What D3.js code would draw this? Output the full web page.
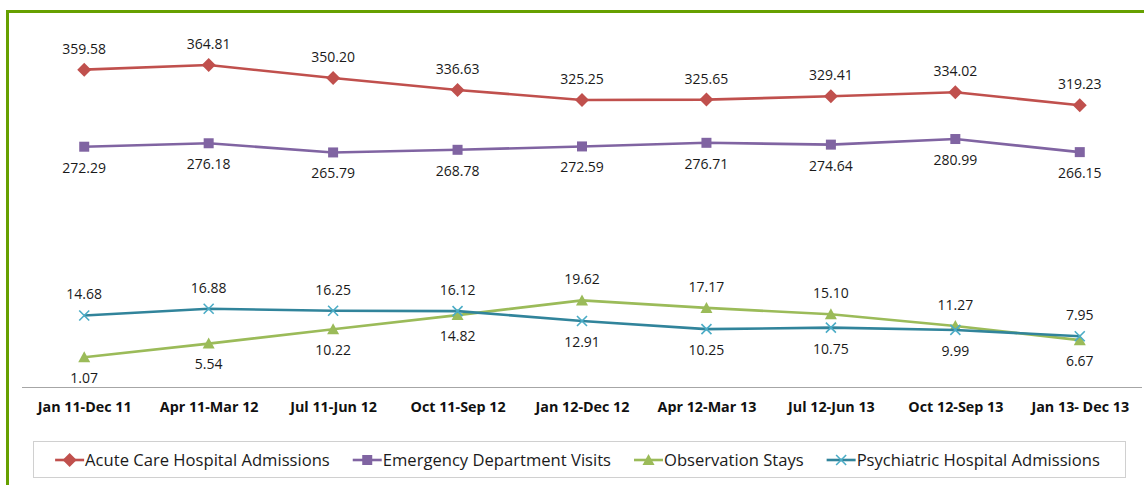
<!DOCTYPE html>
<html>
<head>
<meta charset="utf-8">
<script src="https://cdn.jsdelivr.net/npm/d3@7"></script>
<style>
  html, body { margin: 0; padding: 0; background: #fff; }
  svg { display: block; font-family: "Open Sans", "Noto Sans", sans-serif; }
</style>
</head>
<body>
<svg id="chart" width="1144" height="485"></svg>
<script>
// Rolling 12-month periods
const periods = ["Jan 11-Dec 11", "Apr 11-Mar 12", "Jul 11-Jun 12", "Oct 11-Sep 12",
  "Jan 12-Dec 12", "Apr 12-Mar 13", "Jul 12-Jun 13", "Oct 12-Sep 13", "Jan 13- Dec 13"];

// Rates (primary axis)
const acuteCare = [359.58, 364.81, 350.20, 336.63, 325.25, 325.65, 329.41, 334.02, 319.23];
const emergencyVisits = [272.29, 276.18, 265.79, 268.78, 272.59, 276.71, 274.64, 280.99, 266.15];
// Rates (secondary axis)
const observationStays = [1.07, 5.54, 10.22, 14.82, 19.62, 17.17, 15.10, 11.27, 6.67];
const psychAdmissions = [14.68, 16.88, 16.25, 16.12, 12.91, 10.25, 10.75, 9.99, 7.95];

// Label placement for each point: "above" or "below"
const acutePos = ["above","above","above","above","above","above","above","above","above"];
const edPos = ["below","below","below","below","below","below","below","below","below"];
const obsPos = ["below","below","below","below","above","above","above","above","below"];
const psychPos = ["above","above","above","above","below","below","below","below","above"];

const primaryDomain = [0, 400];
const secondaryDomain = [-8.6, 106.4];

const svg = d3.select("#chart");
const W = 1144, H = 485;
const plot = { left: 22, right: 1142, top: 34, bottom: 387 };

// Chart frame
svg.append("rect")
  .attr("x", 7.5).attr("y", 11.5)
  .attr("width", W).attr("height", H)
  .attr("fill", "none").attr("stroke", "#66a000").attr("stroke-width", 3);

const x = d3.scalePoint().domain(periods).range([plot.left, plot.right]).padding(0.5);
const yPrimary = d3.scaleLinear().domain(primaryDomain).range([plot.bottom, plot.top]);
const ySecondary = d3.scaleLinear().domain(secondaryDomain).range([plot.bottom, plot.top]);

// Category axis
const xAxis = svg.append("g")
  .attr("transform", `translate(0,${plot.bottom})`)
  .call(d3.axisBottom(x).tickSize(0).tickPadding(15));
xAxis.select(".domain").attr("stroke", "#a6a6a6").attr("stroke-width", 1.2)
  .attr("d", `M${plot.left},0.5H${plot.right}`);
xAxis.selectAll(".tick text")
  .attr("font-family", "'Open Sans', sans-serif")
  .attr("font-size", 14.3).attr("font-weight", 700).attr("fill", "#111");

const series = [
  { name: "Acute Care Hospital Admissions", values: acuteCare, pos: acutePos, y: yPrimary,
    line: "#c0504d", marker: "diamond", mfill: "#c0504d" },
  { name: "Emergency Department Visits", values: emergencyVisits, pos: edPos, y: yPrimary,
    line: "#8064a2", marker: "square", mfill: "#8064a2" },
  { name: "Observation Stays", values: observationStays, pos: obsPos, y: ySecondary,
    line: "#9bbb59", marker: "triangle", mfill: "#9bbb59" },
  { name: "Psychiatric Hospital Admissions", values: psychAdmissions, pos: psychPos, y: ySecondary,
    line: "#31849b", marker: "cross", mfill: "#4bacc6" }
];

function drawMarker(g, type, color) {
  if (type === "diamond") {
    g.append("path").attr("d", "M0,-7L7,0L0,7L-7,0Z").attr("fill", color);
  } else if (type === "square") {
    g.append("rect").attr("x", -5).attr("y", -5).attr("width", 10).attr("height", 10).attr("fill", color);
  } else if (type === "triangle") {
    g.append("path").attr("d", "M0,-6L6,5L-6,5Z").attr("fill", color);
  } else {
    g.append("path").attr("d", "M-5,-5L5,5M-5,5L5,-5")
      .attr("stroke", color).attr("stroke-width", 1.6).attr("fill", "none");
  }
}

series.forEach(s => {
  const line = d3.line().x((d, i) => x(periods[i])).y(d => s.y(d));
  svg.append("path").datum(s.values)
    .attr("d", line).attr("fill", "none")
    .attr("stroke", s.line).attr("stroke-width", 2.6).attr("stroke-linejoin", "round");

  s.values.forEach((v, i) => {
    const g = svg.append("g").attr("transform", `translate(${x(periods[i])},${s.y(v)})`);
    drawMarker(g, s.marker, s.mfill);
  });

  svg.append("g").selectAll("text").data(s.values).join("text")
    .attr("x", (d, i) => x(periods[i]))
    .attr("y", (d, i) => s.y(d) + (s.pos[i] === "above" ? -21 : 21))
    .attr("dy", "0.35em")
    .attr("text-anchor", "middle")
    .attr("font-size", 14).attr("fill", "#1a1a1a")
    .text(d => d.toFixed(2));
});

// Legend
const legend = { x: 33.5, y: 441.5, w: 1092, h: 36 };
svg.append("rect")
  .attr("x", legend.x).attr("y", legend.y).attr("width", legend.w).attr("height", legend.h)
  .attr("fill", "#fff").attr("stroke", "#d0d0d0").attr("stroke-width", 1);

const lg = svg.append("g");
let cursor = 0;
const gap = 23, sym = 29;
series.forEach(s => {
  const item = lg.append("g").attr("transform", `translate(${cursor},0)`);
  item.append("line").attr("x1", 0).attr("x2", sym).attr("y1", 0).attr("y2", 0)
    .attr("stroke", s.line).attr("stroke-width", 2.6);
  const m = item.append("g").attr("transform", `translate(${sym / 2},0)`);
  drawMarker(m, s.marker, s.mfill);
  const t = item.append("text").attr("x", sym + 1).attr("y", 0).attr("dy", "0.35em")
    .attr("font-size", 16.6).attr("fill", "#1a1a1a").text(s.name);
  cursor += sym + 1 + t.node().getComputedTextLength() + gap;
});
const totalW = cursor - gap;
lg.attr("transform", `translate(${legend.x + (legend.w - totalW) / 2 - 2},${legend.y + legend.h / 2 + 0.5})`);
</script>
</body>
</html>
